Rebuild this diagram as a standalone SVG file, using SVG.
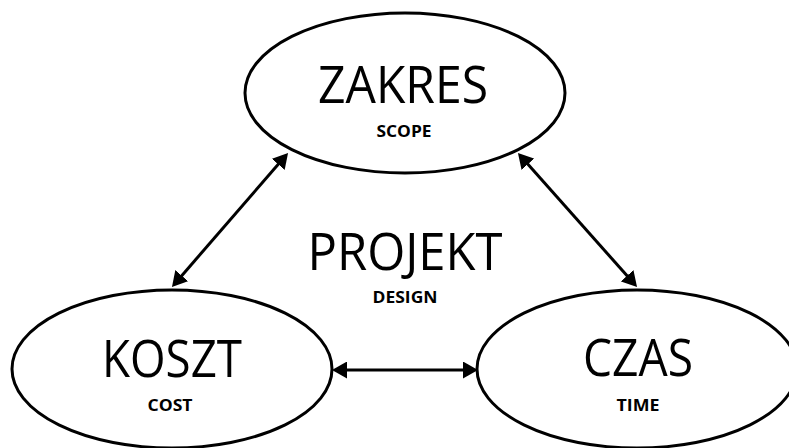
<svg xmlns="http://www.w3.org/2000/svg" width="789" height="448" viewBox="0 0 789 448">
<style>
.node{fill:#fff;stroke:#000;stroke-width:3}
.big{font-family:"Open Sans","Noto Sans",sans-serif;font-size:51px;fill:#000;text-anchor:middle}
.small{font-family:"Open Sans","Noto Sans",sans-serif;font-size:16px;font-weight:bold;fill:#000;text-anchor:middle}
.conn{stroke:#000;stroke-width:3;fill:none;marker-start:url(#ah);marker-end:url(#ah)}
</style>
<defs>
<marker id="ah" markerUnits="userSpaceOnUse" markerWidth="16" markerHeight="17" refX="5" refY="8.5" orient="auto-start-reverse" viewBox="0 0 16 17">
<path d="M0,0 L15,8.5 L0,17 z" fill="#000"/>
</marker>
</defs>
<rect width="789" height="448" fill="#fff"/>
<g id="zakres">
<ellipse class="node" cx="405" cy="93" rx="160" ry="80"/>
<text class="big" x="403" y="103" textLength="170" lengthAdjust="spacingAndGlyphs">ZAKRES</text>
<text class="small" x="404" y="137" textLength="55" lengthAdjust="spacingAndGlyphs">SCOPE</text>
</g>
<g id="koszt">
<ellipse class="node" cx="172" cy="369" rx="160" ry="79"/>
<text class="big" x="172" y="377" textLength="140" lengthAdjust="spacingAndGlyphs">KOSZT</text>
<text class="small" x="170" y="411" textLength="45" lengthAdjust="spacingAndGlyphs">COST</text>
</g>
<g id="czas">
<ellipse class="node" cx="637" cy="369" rx="160" ry="79"/>
<text class="big" x="638" y="376" textLength="110" lengthAdjust="spacingAndGlyphs">CZAS</text>
<text class="small" x="638" y="411" textLength="43" lengthAdjust="spacingAndGlyphs">TIME</text>
</g>
<g id="projekt">
<text class="big" x="405" y="270" textLength="195" lengthAdjust="spacingAndGlyphs">PROJEKT</text>
<text class="small" x="405" y="303" textLength="65" lengthAdjust="spacingAndGlyphs">DESIGN</text>
</g>
<g id="connectors">
<line class="conn" x1="178.5" y1="279.4" x2="281.5" y2="160.6"/>
<line class="conn" x1="524.6" y1="160.5" x2="630.4" y2="279.5"/>
<line class="conn" x1="342" y1="370" x2="468" y2="370"/>
</g>
</svg>
